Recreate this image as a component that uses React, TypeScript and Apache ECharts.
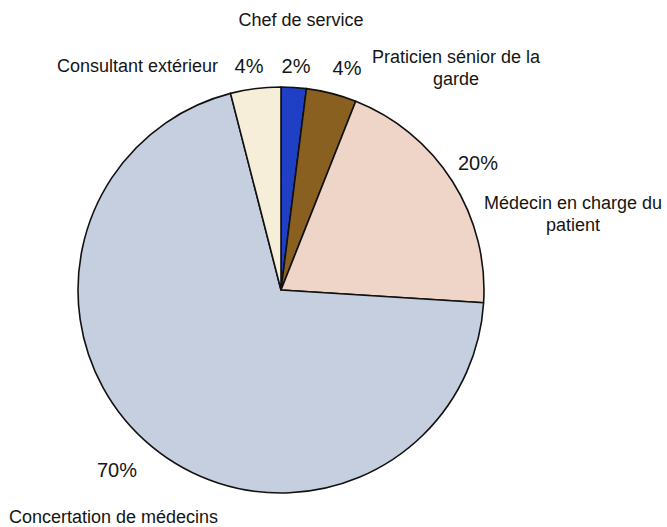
import React, { useEffect, useRef } from "react";
import * as echarts from "echarts";

const categories = [
  "Chef de service",
  "Praticien sénior de la\ngarde",
  "Médecin en charge du\npatient",
  "Concertation de médecins",
  "Consultant extérieur",
];
const values = [2, 4, 20, 70, 4];
const colors = ["#1f3fc4", "#8a6020", "#efd4c8", "#c6cfe0", "#f7eed9"];

// label placement (layout only)
const namePos: [number, number, string][] = [
  [301, 20, "center"],
  [456, 68, "center"],
  [573, 214, "center"],
  [9, 517, "left"],
  [218, 66, "right"],
];
const pctPos: [number, number][] = [
  [296, 66],
  [347, 68],
  [478, 163],
  [117, 470],
  [249, 66],
];

export default function App() {
  const ref = useRef<HTMLDivElement>(null);
  useEffect(() => {
    document.body.style.margin = "0";
    const chart = echarts.init(ref.current!, undefined, { renderer: "svg" });
    const data = categories.map((n, i) => ({
      name: n,
      value: values[i],
      itemStyle: { color: colors[i] },
    }));
    const font = "'Liberation Sans', Arial, Helvetica, sans-serif";
    chart.setOption({
      animation: false,
      backgroundColor: "#ffffff",
      series: [
        {
          type: "pie",
          center: [281, 290],
          radius: 203,
          startAngle: 90,
          clockwise: true,
          silent: true,
          data,
          itemStyle: { borderColor: "#111", borderWidth: 1.6 },
          label: {
            show: true,
            formatter: "{b}",
            color: "#151515",
            fontSize: 18,
            fontFamily: font,
            lineHeight: 22,
            overflow: "none",
          },
          labelLine: { show: false },
          labelLayout: (p: any) => {
            const q = namePos[p.dataIndex];
            return { x: q[0], y: q[1], align: q[2], verticalAlign: "middle", width: 300 };
          },
        },
        {
          type: "pie",
          center: [281, 290],
          radius: 203,
          startAngle: 90,
          clockwise: true,
          silent: true,
          data: categories.map((n, i) => ({ name: n, value: values[i] })),
          itemStyle: { color: "rgba(0,0,0,0)", borderWidth: 0 },
          label: {
            show: true,
            formatter: "{c}%",
            color: "#151515",
            fontSize: 20,
            fontFamily: font,
            overflow: "none",
          },
          labelLine: { show: false },
          labelLayout: (p: any) => {
            const q = pctPos[p.dataIndex];
            return { x: q[0], y: q[1], align: "center", verticalAlign: "middle" };
          },
        },
      ],
    });
    return () => chart.dispose();
  }, []);
  return <div ref={ref} style={{ width: 667, height: 527 }} />;
}
